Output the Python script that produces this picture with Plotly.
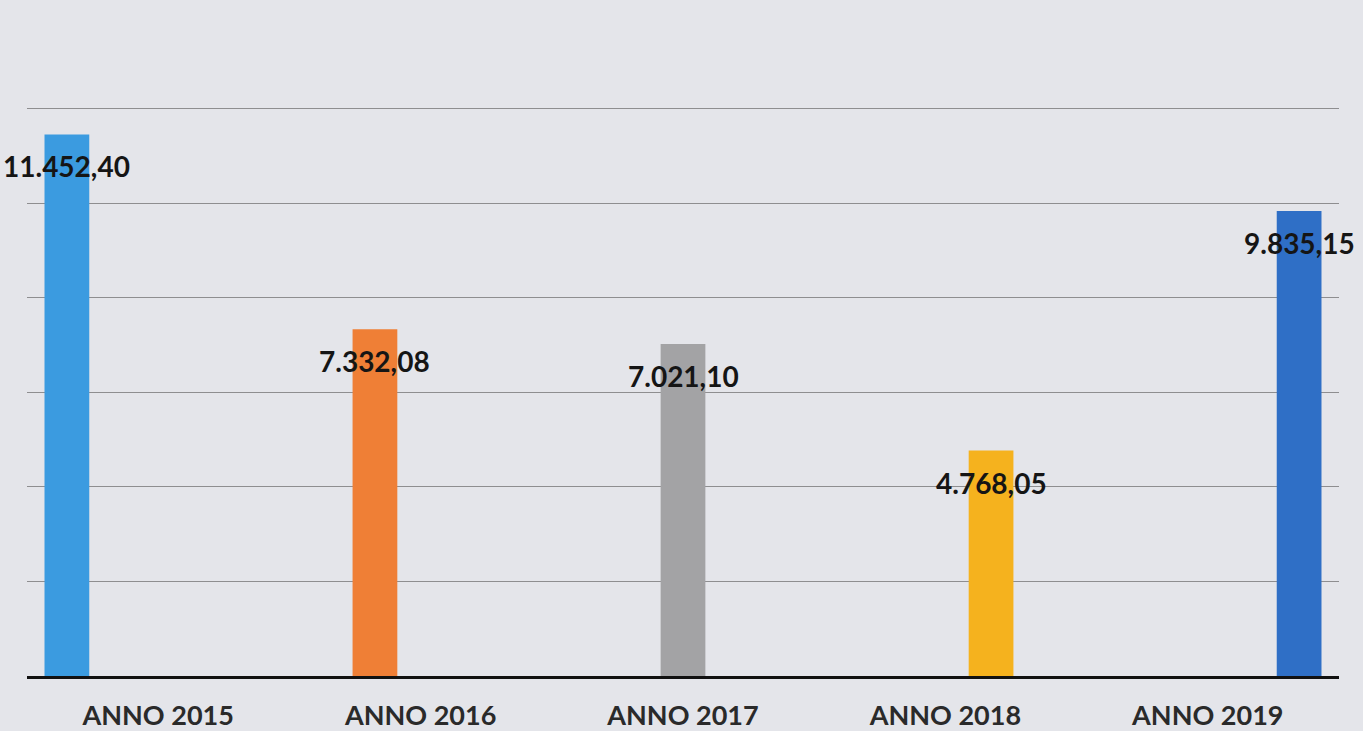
import plotly.graph_objects as go

categories = ["ANNO 2015", "ANNO 2016", "ANNO 2017", "ANNO 2018", "ANNO 2019"]
values = [11452.40, 7332.08, 7021.10, 4768.05, 9835.15]
labels = ["11.452,40", "7.332,08", "7.021,10", "4.768,05", "9.835,15"]
colors = ["#3b9be0", "#ef7f36", "#a3a3a5", "#f5b21e", "#2f6fc6"]

BARGAP = 0.13
n = len(categories)

fig = go.Figure()
for i, (cat, val, col) in enumerate(zip(categories, values, colors)):
    yv = [val if j == i else None for j in range(n)]
    fig.add_trace(go.Bar(x=categories, y=yv, marker=dict(color=col, line=dict(width=0)),
                         showlegend=False, hoverinfo="skip"))

slot = (1 - BARGAP) / n
for i, (val, lab) in enumerate(zip(values, labels)):
    fig.add_annotation(x=i + (i - (n - 1) / 2) * slot, y=val, xref="x", yref="y",
                       text=lab, showarrow=False, yshift=-32,
                       font=dict(family="Lato", size=28, color="#151515", weight="bold"))

fig.update_layout(
    width=1363, height=731,
    margin=dict(l=27, r=24, t=14, b=55, autoexpand=False),
    paper_bgcolor="#e4e5ea", plot_bgcolor="rgba(0,0,0,0)",
    barmode="group", bargap=BARGAP, bargroupgap=0.02,
    font=dict(family="Lato"),
)
fig.update_xaxes(range=[-0.5, n - 0.5], automargin=False, showgrid=False, showline=True,
                 linecolor="#111111", linewidth=3,
                 ticks="", tickfont=dict(family="Lato", size=27, color="#2a2a2a", weight="bold"),
                 ticklabelstandoff=14)
fig.update_yaxes(range=[0, 14000], dtick=2000, automargin=False, showgrid=True,
                 gridcolor="#8e8e90", gridwidth=1,
                 showticklabels=False, zeroline=False, ticks="")

fig.write_html("out.html", config={"displayModeBar": False},
               post_script="document.body.style.margin='0';document.body.style.overflow='hidden';")
